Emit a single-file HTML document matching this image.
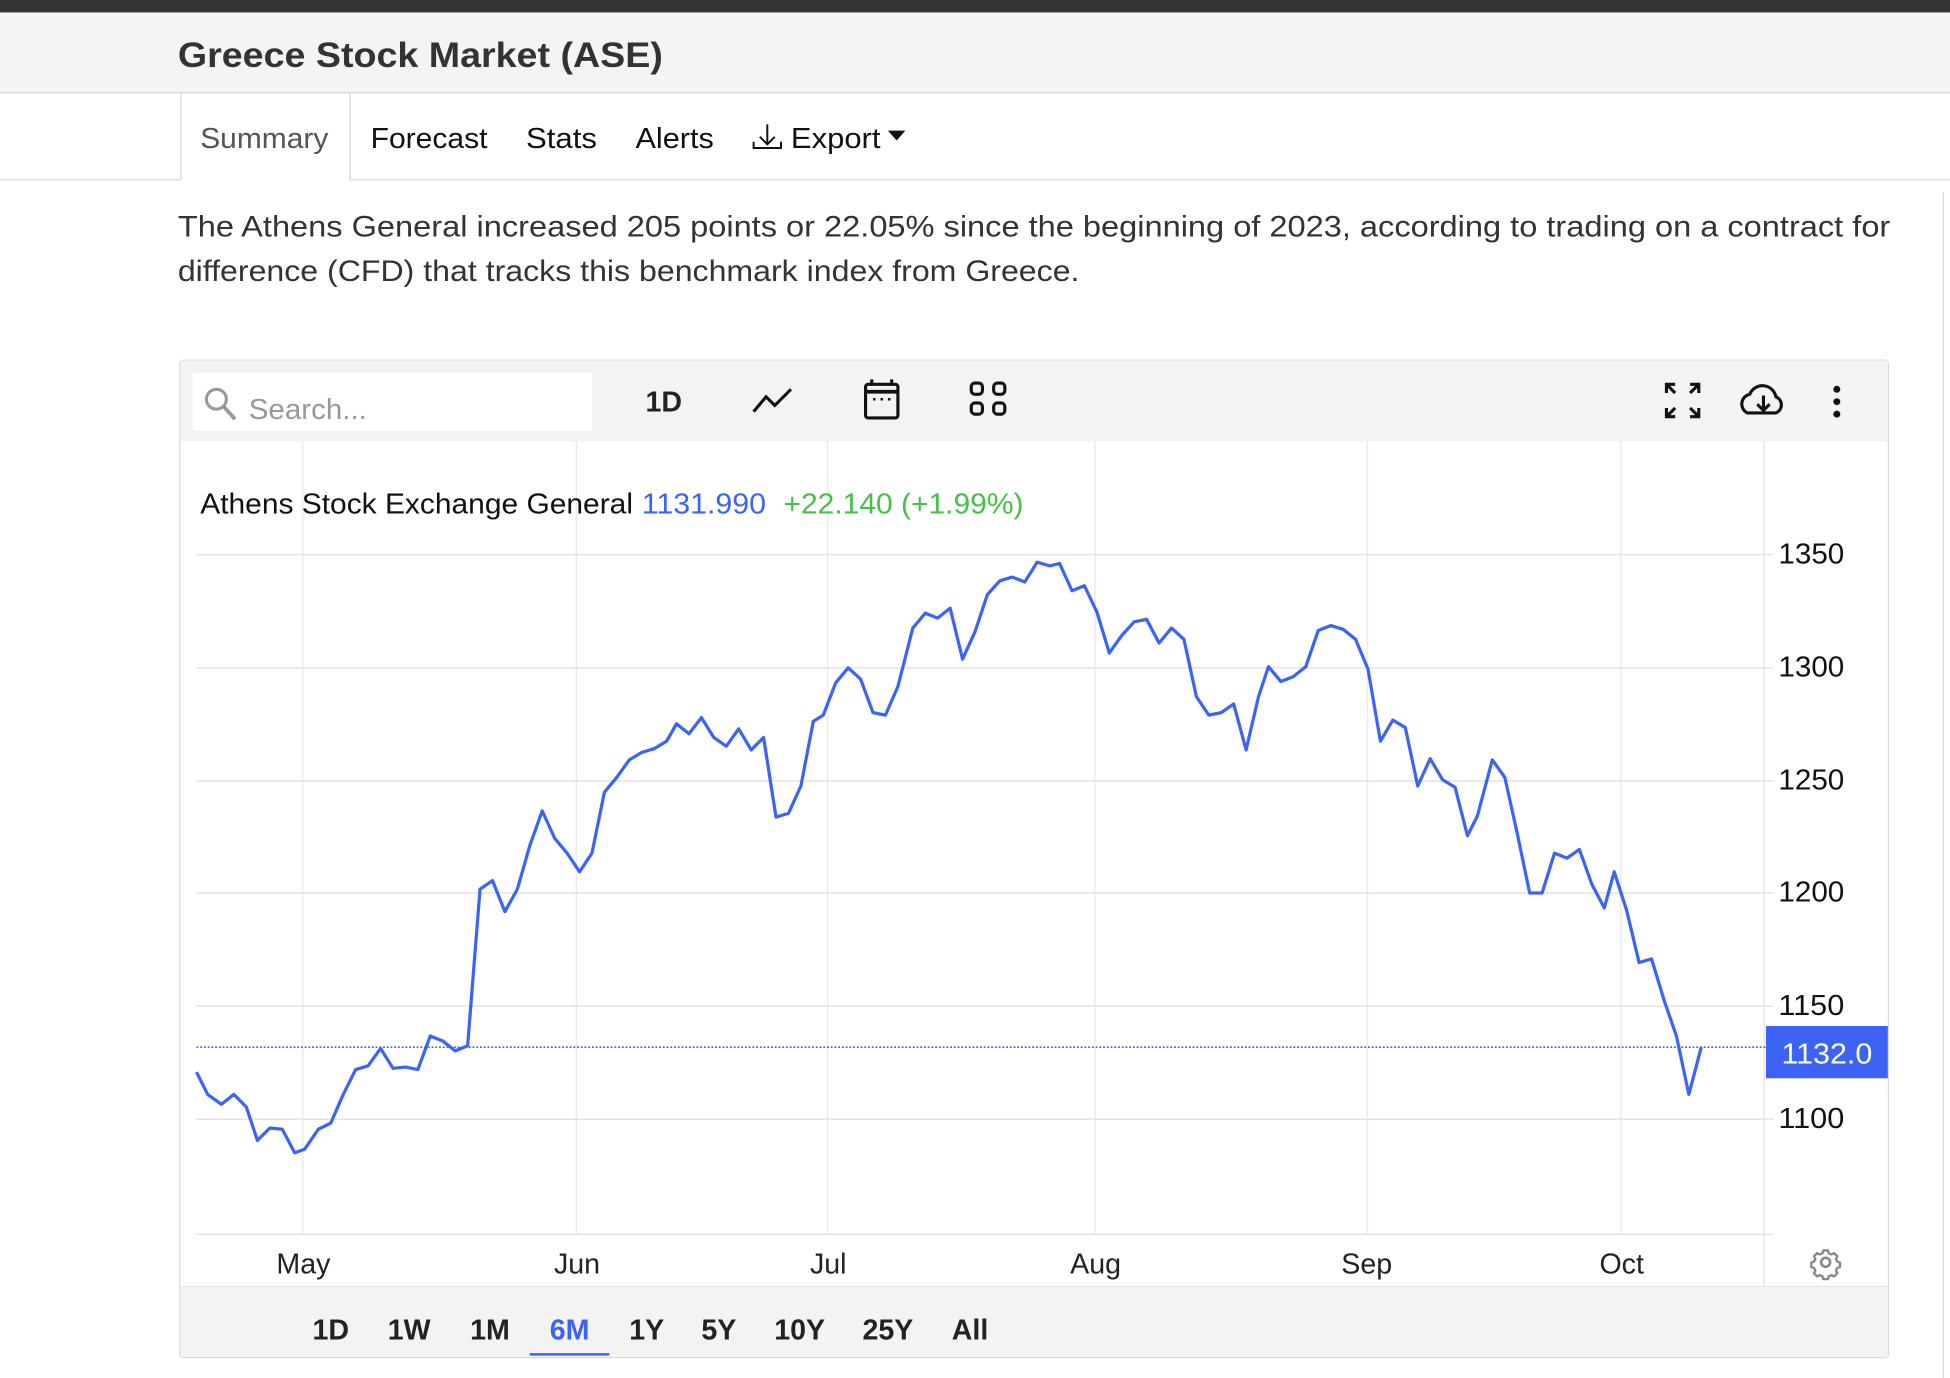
<!DOCTYPE html>
<html><head><meta charset="utf-8"><style>
html,body{margin:0;padding:0;background:#fff;width:1950px;height:1378px;overflow:hidden}
svg{display:block}
text{font-family:"Liberation Sans",Arial,sans-serif}
</style></head><body>
<svg width="1950" height="1378" viewBox="0 0 1568 1108" xmlns="http://www.w3.org/2000/svg">
<rect x="0" y="0" width="1568" height="1108" fill="#fff"/>
<rect x="0" y="0" width="1568" height="10" fill="#333"/>
<rect x="0" y="10" width="1568" height="64" fill="#f4f4f4"/>
<line x1="0" y1="74.5" x2="1568" y2="74.5" stroke="#d6d6d6"/>
<text x="143" y="54" font-size="28" font-weight="bold" fill="#333" textLength="390" lengthAdjust="spacingAndGlyphs">Greece Stock Market (ASE)</text>
<!-- tabs -->
<line x1="0" y1="144.5" x2="145" y2="144.5" stroke="#d6d6d6"/>
<line x1="282" y1="144.5" x2="1568" y2="144.5" stroke="#d6d6d6"/>
<line x1="145.5" y1="75" x2="145.5" y2="145" stroke="#d6d6d6"/>
<line x1="281.5" y1="75" x2="281.5" y2="145" stroke="#d6d6d6"/>
<text x="161" y="119" font-size="23" fill="#555" textLength="103" lengthAdjust="spacingAndGlyphs">Summary</text>
<text x="298" y="119" font-size="23" fill="#111" textLength="94" lengthAdjust="spacingAndGlyphs">Forecast</text>
<text x="423" y="119" font-size="23" fill="#111" textLength="57" lengthAdjust="spacingAndGlyphs">Stats</text>
<text x="511" y="119" font-size="23" fill="#111" textLength="63" lengthAdjust="spacingAndGlyphs">Alerts</text>
<g stroke="#111" stroke-width="1.6" fill="none"><path d="M617 100v16M611 110l6 6 6-6M606 114v5h22v-5"/></g>
<text x="636" y="119" font-size="23" fill="#111" textLength="72" lengthAdjust="spacingAndGlyphs">Export</text>
<path d="M714 105h14l-7 8z" fill="#111"/>
<line x1="1562.5" y1="155" x2="1562.5" y2="1108" stroke="#d6d6d6"/>
<text x="143" y="190" font-size="24" fill="#333" textLength="1377" lengthAdjust="spacingAndGlyphs">The Athens General increased 205 points or 22.05% since the beginning of 2023, according to trading on a contract for</text>
<text x="143" y="226" font-size="24" fill="#333" textLength="725" lengthAdjust="spacingAndGlyphs">difference (CFD) that tracks this benchmark index from Greece.</text>
<!-- chart box -->
<rect x="144.5" y="289.5" width="1374" height="802" rx="3" fill="#fff" stroke="#d8d8d8"/>
<rect x="145" y="290" width="1373" height="65" fill="#f3f3f3"/>
<rect x="155" y="300" width="321" height="46" fill="#fff"/>
<circle cx="174" cy="321" r="8" fill="none" stroke="#999" stroke-width="2.5"/>
<line x1="180" y1="327" x2="189" y2="337" stroke="#999" stroke-width="3"/>
<text x="200" y="337" font-size="23" fill="#999" textLength="95" lengthAdjust="spacingAndGlyphs">Search...</text>
<text x="519" y="331" font-size="23" font-weight="bold" fill="#222">1D</text>
<path d="M606 331l10-12 7 7 13-13" fill="none" stroke="#111" stroke-width="2.5"/>
<rect x="696" y="309" width="26" height="27" rx="2" fill="none" stroke="#111" stroke-width="2.5"/>
<line x1="696" y1="315" x2="722" y2="315" stroke="#111" stroke-width="3"/>
<line x1="701" y1="305" x2="701" y2="310" stroke="#111" stroke-width="2.5"/><line x1="717" y1="305" x2="717" y2="310" stroke="#111" stroke-width="2.5"/>
<path d="M702 321h2M708 321h2M714 321h2" stroke="#111" stroke-width="2"/>
<g fill="none" stroke="#111" stroke-width="2.5"><rect x="781" y="308" width="9" height="9" rx="3"/><rect x="799" y="308" width="9" height="9" rx="3"/><rect x="781" y="324" width="9" height="9" rx="3"/><rect x="799" y="324" width="9" height="9" rx="3"/></g>
<g stroke="#111" stroke-width="2.5" fill="none"><path d="M1340 316v-7h7M1340 309l7 7M1366 316v-7h-7M1366 309l-7 7M1340 328v7h7M1340 335l7-7M1366 328v7h-7M1366 335l-7-7"/></g>
<path d="M1405 332a8 8 0 0 1 2-15a11 11 0 0 1 21 2a7 7 0 0 1 0 13z" fill="none" stroke="#111" stroke-width="2.5"/>
<path d="M1418 318v11M1413 325l5 5 5-5" stroke="#111" stroke-width="2.5" fill="none"/>
<circle cx="1477" cy="313" r="2.8" fill="#111"/><circle cx="1477" cy="323" r="2.8" fill="#111"/><circle cx="1477" cy="333" r="2.8" fill="#111"/>
<!-- grid -->
<g stroke="#e8ebef" stroke-width="1.2">
<line x1="243.5" y1="355" x2="243.5" y2="992"/><line x1="463.5" y1="355" x2="463.5" y2="992"/><line x1="665.5" y1="355" x2="665.5" y2="992"/><line x1="880.5" y1="355" x2="880.5" y2="992"/><line x1="1099.5" y1="355" x2="1099.5" y2="992"/><line x1="1303.5" y1="355" x2="1303.5" y2="992"/>
</g>
<g stroke="#e4e4e4" stroke-width="1.2">
<line x1="158" y1="446" x2="1426" y2="446"/><line x1="158" y1="537" x2="1426" y2="537"/><line x1="158" y1="628" x2="1426" y2="628"/><line x1="158" y1="718" x2="1426" y2="718"/><line x1="158" y1="809" x2="1426" y2="809"/><line x1="158" y1="900" x2="1426" y2="900"/>
<line x1="158" y1="992.5" x2="1426" y2="992.5"/>
</g>
<line x1="1418.5" y1="355" x2="1418.5" y2="1035" stroke="#e4e4e4"/>
<line x1="145" y1="1034.5" x2="1518" y2="1034.5" stroke="#e4e4e4"/>
<g font-size="23" fill="#111">
<text x="1430" y="453" textLength="53" lengthAdjust="spacingAndGlyphs">1350</text><text x="1430" y="544" textLength="53" lengthAdjust="spacingAndGlyphs">1300</text><text x="1430" y="635" textLength="53" lengthAdjust="spacingAndGlyphs">1250</text><text x="1430" y="725" textLength="53" lengthAdjust="spacingAndGlyphs">1200</text><text x="1430" y="816" textLength="53" lengthAdjust="spacingAndGlyphs">1150</text><text x="1430" y="907" textLength="53" lengthAdjust="spacingAndGlyphs">1100</text>
</g>
<g font-size="23" fill="#222" text-anchor="middle">
<text x="244" y="1024">May</text><text x="464" y="1024">Jun</text><text x="666" y="1024">Jul</text><text x="881" y="1024">Aug</text><text x="1099" y="1024">Sep</text><text x="1304" y="1024">Oct</text>
</g>
<text x="161" y="413" font-size="23" fill="#111" textLength="348" lengthAdjust="spacingAndGlyphs">Athens Stock Exchange General</text>
<text x="516" y="413" font-size="23" fill="#3d63f5" textLength="100" lengthAdjust="spacingAndGlyphs">1131.990</text>
<text x="630" y="413" font-size="23" fill="#46c146" textLength="193" lengthAdjust="spacingAndGlyphs">+22.140 (+1.99%)</text>
<line x1="158" y1="842" x2="1420" y2="842" stroke="#3d63f5" stroke-width="1.3" stroke-dasharray="1.5 1.5"/>
<rect x="1420" y="825" width="98" height="42" fill="#3d63f5"/>
<text x="1469" y="855" font-size="23" fill="#fff" text-anchor="middle" textLength="73" lengthAdjust="spacingAndGlyphs">1132.0</text>
<polyline fill="none" stroke="#3d63f5" stroke-width="2.6" stroke-linejoin="round" points="158,862 167,880 178,888 188,880 198,890 207,917 217,907 227,908 237,927 245,924 256,908 266,903 276,880 286,860 296,857 306,843 316,859 326,858 336,860 346,833 356,837 366,845 376,841 386,715 396,708 406,733 416,715 426,680 436,652 446,674 456,686 466,701 476,686 486,637 496,625 506,611 516,605 526,602 536,596 544,582 554,590 564,577 574,593 584,600 594,586 604,603 614,593 624,657 634,654 644,632 654,580 662,575 672,549 682,537 692,546 702,573 712,575 722,552 734,505 744,493 754,497 764,489 774,530 784,508 794,478 804,467 814,464 824,468 834,452 844,455 852,453 862,475 872,471 882,492 892,525 902,511 912,500 922,498 932,517 942,505 952,514 962,560 972,575 982,573 992,566 1002,603 1012,560 1020,536 1030,548 1040,544 1050,536 1060,507 1070,503 1080,506 1090,514 1100,538 1110,596 1120,579 1130,585 1140,632 1150,610 1160,627 1170,633 1180,672 1188,656 1200,611 1210,625 1220,670 1230,718 1240,718 1250,686 1260,690 1270,683 1280,711 1290,730 1298,701 1308,732 1318,774 1328,771 1338,804 1348,833 1358,880 1368,842"/>
<!-- gear -->
<g transform="translate(1468,1015) scale(0.8)" fill="none" stroke="#888" stroke-width="2.6">
<circle r="4.5"/>
<path d="M-2.5,-11 h5 l1,3 l3,1.5 l3,-1.5 l3.5,3.5 l-1.5,3 l1.5,3 l3,1 v5 l-3,1 l-1.5,3 l1.5,3 l-3.5,3.5 l-3,-1.5 l-3,1.5 l-1,3 h-5 l-1,-3 l-3,-1.5 l-3,1.5 l-3.5,-3.5 l1.5,-3 l-1.5,-3 l-3,-1 v-5 l3,-1 l1.5,-3 l-1.5,-3 l3.5,-3.5 l3,1.5 l3,-1.5 z" transform="translate(0,-2) scale(0.9)"/>
</g>
<!-- bottom range bar -->
<rect x="145" y="1035" width="1373" height="56" fill="#f3f3f3"/>
<g font-size="23" font-weight="bold" fill="#222" text-anchor="middle">
<text x="266" y="1077">1D</text><text x="329" y="1077">1W</text><text x="394" y="1077">1M</text><text x="458" y="1077" fill="#3d63f5">6M</text><text x="520" y="1077">1Y</text><text x="578" y="1077">5Y</text><text x="643" y="1077">10Y</text><text x="714" y="1077">25Y</text><text x="780" y="1077">All</text>
</g>
<line x1="426" y1="1089" x2="490" y2="1089" stroke="#3d63f5" stroke-width="2"/>
</svg>
</body></html>
